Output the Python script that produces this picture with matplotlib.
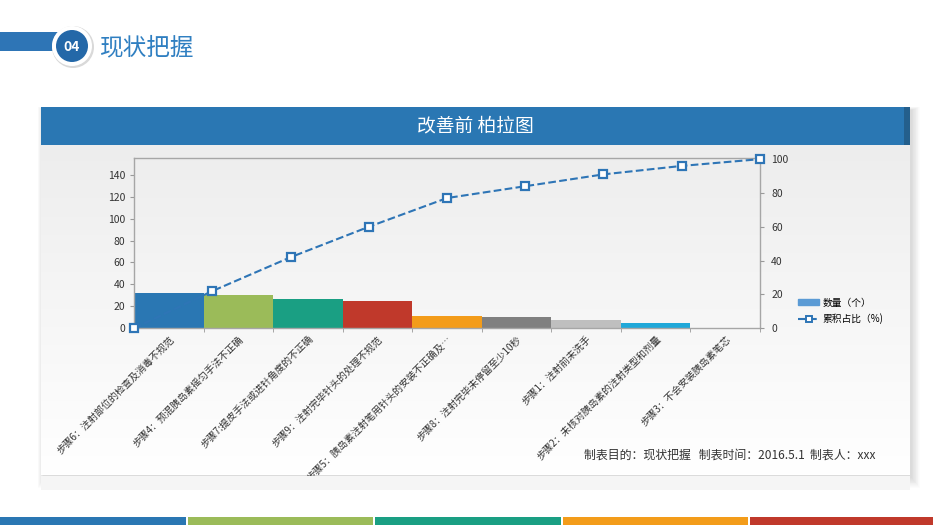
import numpy as np
import matplotlib
matplotlib.use('Agg')
import matplotlib.pyplot as plt
from matplotlib.patches import Rectangle, Circle, Patch
from matplotlib.lines import Line2D

plt.rcParams['font.family'] = ['Noto Sans CJK SC', 'DejaVu Sans']

# data
steps = ['步骤6：注射部位的检查及消毒不规范',
         '步骤4：预混胰岛素摇匀手法不正确',
         '步骤7:提皮手法或进针角度的不正确',
         '步骤9：注射完毕针头的处理不规范',
         '步骤5：胰岛素注射笔用针头的安装不正确及…',
         '步骤8：注射完毕未停留至少10秒',
         '步骤1：注射前未洗手',
         '步骤2：未核对胰岛素的注射类型和剂量',
         '步骤3：不会安装胰岛素笔芯']
counts = [32, 30, 27, 25, 11, 10, 8, 5, 0]
cum_pct = [0, 22, 42, 60, 77, 84, 91, 96, 100]
bar_colors = ['#2a77b3', '#9bbb59', '#1a9f83', '#c0392b', '#f39c1a',
              '#808080', '#bfbfbf', '#1fa8d9', '#5b9bd5']
stripe_colors = ['#2a77b3', '#9bbb59', '#1a9f83', '#f39c1a', '#c0392b']

W, H = 933, 525
fig = plt.figure(figsize=(W / 100, H / 100), dpi=100)
fig.patch.set_facecolor('white')

# background / decoration layer in pixel coords
bg = fig.add_axes([0, 0, 1, 1], zorder=-5)
bg.set_xlim(0, W)
bg.set_ylim(H, 0)
bg.axis('off')

# page heading
bg.add_patch(Rectangle((0, 32), 60, 19, color='#2e75b6', lw=0))
bg.add_patch(Circle((73, 47), 21, color='#d9d9d9', lw=0))
bg.add_patch(Circle((72, 46), 20, color='white', lw=0))
bg.add_patch(Circle((72, 46), 16, color='#2468a8', lw=0))
bg.text(72, 47, '04', color='white', fontsize=10, fontweight='bold',
        ha='center', va='center')
bg.text(100, 48, '现状把握', color='#2f7fc1', fontsize=17, ha='left', va='center')

# card shadow
for i in range(12):
    bg.add_patch(Rectangle((41 - i * 0.5 + 2, 107 - i * 0.3 + 3), 869 + i * 1.2, 368 + i * 1.2,
                           color='black', alpha=0.012, lw=0))
# card body gradient
grad = np.linspace(0.93, 1.0, 256).reshape(-1, 1)
bg.imshow(np.dstack([grad, grad, grad]), extent=[41, 910, 475, 145],
          aspect='auto', zorder=1)
bg.add_patch(Rectangle((41, 106.5), 869, 38.5, color='#2a77b3', lw=0, zorder=2))
bg.add_patch(Rectangle((904, 106.5), 6, 38.5, color='#245f8c', lw=0, zorder=2))
bg.text(475, 126, '改善前 柏拉图', color='white', fontsize=13.5,
        ha='center', va='center', zorder=3)
bg.text(875, 455, '制表目的：现状把握   制表时间：2016.5.1  制表人：xxx',
        color='#333333', fontsize=8.6, ha='right', va='center', zorder=3)

# bottom stripes
for i, c in enumerate(stripe_colors):
    bg.add_patch(Rectangle((i * 187.5, 516.5), 185.5, 9, color=c, lw=0))

# main chart
pos = [134 / W, 1 - 328.3 / H, 626 / W, 170 / H]
ax = fig.add_axes(pos)
ax.set_facecolor('none')
x = np.arange(len(counts))
ax.bar(x, counts, width=1.0, color=bar_colors, lw=0)
ax.set_xlim(-0.5, len(counts) - 0.5)
ax.set_ylim(0, 155)
ax.set_yticks(range(0, 141, 20))
ax.set_xticks(x)
ax.set_xticklabels(steps, rotation=45, ha='right', rotation_mode='anchor',
                   fontsize=7, color='#333333')
ax.set_xticks(np.arange(-0.5, len(counts), 1.0), minor=True)
ax.tick_params(axis='x', which='major', length=0, pad=4)
ax.tick_params(axis='x', which='minor', length=3, color='#999999')
ax.tick_params(axis='y', labelsize=7.5, length=3, color='#999999', labelcolor='#333333')
for sp in ax.spines.values():
    sp.set_color('#a6a6a6')
    sp.set_linewidth(1)

# cumulative line on its own axis
ax2 = fig.add_axes(pos, frameon=False)
ax2.set_facecolor('none')
ax2.plot(range(len(cum_pct)), cum_pct, linestyle='--', color='#2e75b6', lw=1.5,
         marker='s', markersize=6, markerfacecolor='white',
         markeredgecolor='#2e75b6', markeredgewidth=1.6, clip_on=False, zorder=5)
ax2.set_xlim(0, len(cum_pct) - 1)
ax2.set_ylim(0, 100.5)
ax2.set_xticks([])
ax2.yaxis.tick_right()
ax2.set_yticks(range(0, 101, 20))
ax2.tick_params(axis='y', labelsize=7.5, length=3, color='#999999',
                labelcolor='#333333', pad=5)

handles = [Patch(color='#5b9bd5', label='数量（个）'),
           Line2D([], [], linestyle='--', color='#2e75b6', lw=1.5, marker='s',
                  markersize=5, markerfacecolor='white', markeredgecolor='#2e75b6',
                  markeredgewidth=1.4, label='累积占比（%)')]
fig.legend(handles=handles, loc='center left', bbox_to_anchor=(793 / W, 1 - 311 / H),
           frameon=False, fontsize=7, handlelength=2.2, handleheight=0.5,
           handletextpad=0.3, labelspacing=0.6, borderpad=0)

# hide label overflow below the card
bg2 = fig.add_axes([0, 0, 1, 1], zorder=10)
bg2.set_xlim(0, W)
bg2.set_ylim(H, 0)
bg2.axis('off')
bg2.add_patch(Rectangle((41, 476), 869, 14, color='#f5f5f5', lw=0))

fig.savefig('out.png', dpi=100)
